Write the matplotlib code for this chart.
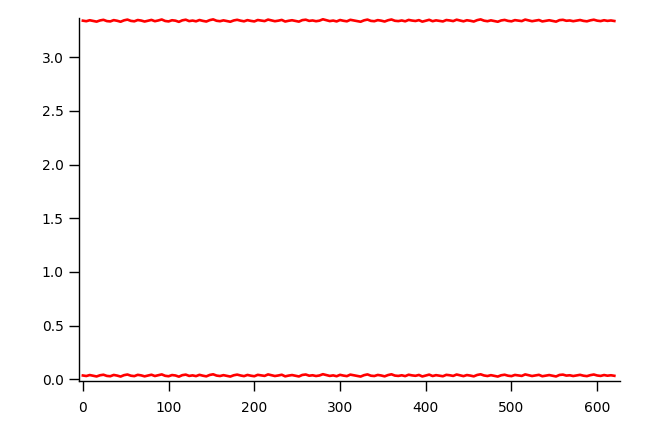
import matplotlib
matplotlib.use("Agg")
import matplotlib.pyplot as plt

x = list(range(0, 624, 4))

upper = [3.341, 3.336, 3.345, 3.338, 3.332, 3.343, 3.349, 3.337, 3.334, 3.346,
         3.340, 3.331, 3.344, 3.351, 3.339, 3.335, 3.347, 3.342, 3.333, 3.340,
         3.348, 3.336, 3.343, 3.352, 3.338, 3.334, 3.345, 3.341, 3.330, 3.344,
         3.350, 3.337, 3.342, 3.335, 3.347, 3.339, 3.333, 3.346, 3.353, 3.340,
         3.336, 3.344, 3.338, 3.331, 3.343, 3.349, 3.341, 3.335, 3.346, 3.339,
         3.334, 3.347, 3.342, 3.337, 3.351, 3.344, 3.336, 3.341, 3.348, 3.333,
         3.340, 3.345, 3.338, 3.332, 3.346, 3.350, 3.339, 3.343, 3.336, 3.341,
         3.354, 3.345, 3.337, 3.342, 3.334, 3.347, 3.340, 3.335, 3.349, 3.343,
         3.338, 3.331, 3.344, 3.351, 3.339, 3.336, 3.346, 3.341, 3.333, 3.345,
         3.352, 3.340, 3.337, 3.343, 3.335, 3.348, 3.342, 3.338, 3.346, 3.332,
         3.341, 3.349, 3.336, 3.344, 3.339, 3.334, 3.347, 3.343, 3.337, 3.350,
         3.342, 3.335, 3.345, 3.340, 3.333, 3.346, 3.353, 3.341, 3.336, 3.344,
         3.338, 3.331, 3.343, 3.348, 3.339, 3.335, 3.346, 3.342, 3.337, 3.351,
         3.344, 3.336, 3.341, 3.347, 3.334, 3.340, 3.345, 3.338, 3.332, 3.346,
         3.349, 3.340, 3.343, 3.336, 3.342, 3.347, 3.339, 3.335, 3.344, 3.350,
         3.341, 3.337, 3.345, 3.339, 3.343, 3.338]

lower = [0.036, 0.031, 0.040, 0.033, 0.027, 0.038, 0.043, 0.032, 0.029, 0.041,
         0.035, 0.026, 0.039, 0.045, 0.034, 0.030, 0.042, 0.037, 0.028, 0.036,
         0.043, 0.031, 0.038, 0.046, 0.033, 0.029, 0.040, 0.036, 0.025, 0.039,
         0.044, 0.032, 0.037, 0.030, 0.042, 0.034, 0.028, 0.041, 0.047, 0.035,
         0.031, 0.039, 0.033, 0.026, 0.038, 0.044, 0.036, 0.030, 0.041, 0.034,
         0.029, 0.042, 0.037, 0.032, 0.046, 0.039, 0.031, 0.036, 0.043, 0.028,
         0.035, 0.040, 0.033, 0.027, 0.041, 0.045, 0.034, 0.038, 0.031, 0.036,
         0.048, 0.040, 0.032, 0.037, 0.029, 0.042, 0.035, 0.030, 0.044, 0.038,
         0.033, 0.026, 0.039, 0.046, 0.034, 0.031, 0.041, 0.036, 0.028, 0.040,
         0.047, 0.035, 0.032, 0.038, 0.030, 0.043, 0.037, 0.033, 0.041, 0.027,
         0.036, 0.044, 0.031, 0.039, 0.034, 0.029, 0.042, 0.038, 0.032, 0.045,
         0.037, 0.030, 0.040, 0.035, 0.028, 0.041, 0.047, 0.036, 0.031, 0.039,
         0.033, 0.026, 0.038, 0.043, 0.034, 0.030, 0.041, 0.037, 0.032, 0.046,
         0.039, 0.031, 0.036, 0.042, 0.029, 0.035, 0.040, 0.033, 0.027, 0.041,
         0.044, 0.035, 0.038, 0.031, 0.037, 0.042, 0.034, 0.030, 0.039, 0.045,
         0.036, 0.032, 0.040, 0.034, 0.038, 0.033]

xticks = [0, 100, 200, 300, 400, 500, 600]
yticks = [0.0, 0.5, 1.0, 1.5, 2.0, 2.5, 3.0]

plt.rcParams['font.family'] = ['DejaVu Sans']
fig = plt.figure(figsize=(6.53, 4.36), dpi=100)
ax = fig.add_axes([0.121, 0.126, 0.829, 0.833])

ax.plot(x, upper, color='#ff0000', lw=1.9)
ax.plot(x, lower, color='#ff0000', lw=1.9)

ax.set_xlim(-4.5, 627)
ax.set_ylim(-0.016, 3.367)
ax.set_xticks(xticks)
ax.set_yticks(yticks)
ax.set_yticklabels([f"{v:.1f}" for v in yticks])
for s in ['top', 'right']:
    ax.spines[s].set_visible(False)
for s in ['left', 'bottom']:
    ax.spines[s].set_linewidth(1.0)
    ax.spines[s].set_color('black')
ax.tick_params(axis='both', direction='out', length=7, width=1.0,
               labelsize=10, colors='black')
ax.tick_params(axis='x', pad=7)
ax.tick_params(axis='y', pad=4)

fig.savefig('out.png', dpi=100)
